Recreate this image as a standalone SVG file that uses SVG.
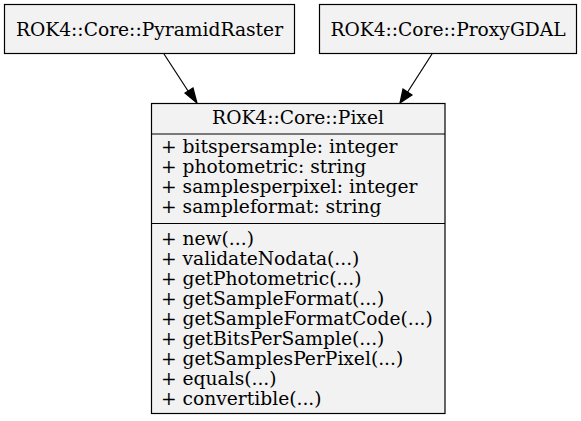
<svg xmlns="http://www.w3.org/2000/svg" width="581" height="421" viewBox="0 0 581 421">
<defs>
<style>
.box{fill:#f2f2f2;stroke:#000;stroke-width:1.2}
.sep{stroke:#000;stroke-width:1.2}
text{font-family:"DejaVu Serif",serif;font-size:18.67px;fill:#000}
.c{text-anchor:middle}
.edge{stroke:#000;stroke-width:1.2;fill:none}
.ah{fill:#000;stroke:#000;stroke-width:1.2}
</style>
</defs>
<rect width="581" height="421" fill="#fff"/>
<g id="connectors">
<line class="edge" x1="164" y1="54" x2="190" y2="94"/>
<polygon class="ah" points="197,103 185,93 193,88"/>
<line class="edge" x1="432" y1="54" x2="407" y2="93"/>
<polygon class="ah" points="400,103 403,89 412,95"/>
</g>
<g id="node-PyramidRaster">
<rect class="box" x="4.5" y="4.5" width="290" height="49"/>
<text class="c" x="149.5" y="36">ROK4::Core::PyramidRaster</text>
</g>
<g id="node-ProxyGDAL">
<rect class="box" x="319.5" y="4.5" width="257" height="49"/>
<text class="c" x="448" y="36">ROK4::Core::ProxyGDAL</text>
</g>
<g id="node-Pixel">
<rect class="box" x="151.5" y="103.5" width="293.5" height="310"/>
<line class="sep" x1="151.5" y1="134" x2="445" y2="134"/>
<line class="sep" x1="151.5" y1="223.5" x2="445" y2="223.5"/>
<text class="c" x="298" y="124">ROK4::Core::Pixel</text>
<text x="161" y="153">+ bitspersample: integer</text>
<text x="161" y="173">+ photometric: string</text>
<text x="161" y="193">+ samplesperpixel: integer</text>
<text x="161" y="213">+ sampleformat: string</text>
<text x="161" y="245">+ new(...)</text>
<text x="161" y="265">+ validateNodata(...)</text>
<text x="161" y="285">+ getPhotometric(...)</text>
<text x="161" y="305">+ getSampleFormat(...)</text>
<text x="161" y="325">+ getSampleFormatCode(...)</text>
<text x="161" y="345">+ getBitsPerSample(...)</text>
<text x="161" y="365">+ getSamplesPerPixel(...)</text>
<text x="161" y="385">+ equals(...)</text>
<text x="161" y="405">+ convertible(...)</text>
</g>
</svg>
